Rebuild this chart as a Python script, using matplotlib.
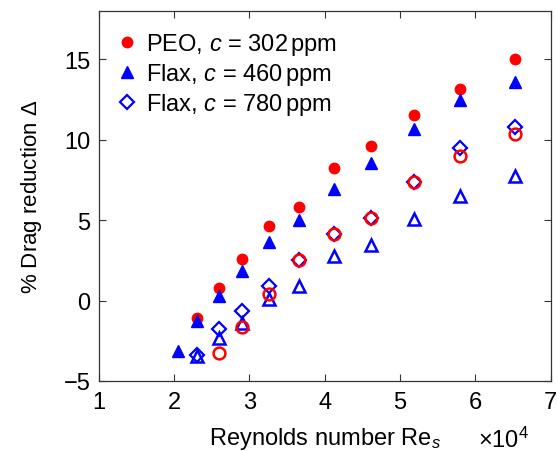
import numpy as np
import matplotlib
matplotlib.use("Agg")
import matplotlib.pyplot as plt

plt.rcParams['font.family'] = ['Liberation Sans', 'DejaVu Sans']
plt.rcParams['mathtext.fontset'] = 'custom'
plt.rcParams['mathtext.rm'] = 'Liberation Sans'
plt.rcParams['mathtext.it'] = 'Liberation Sans:italic'

# Reynolds number, in units of 10^4
re_all = [2.05, 2.30, 2.60, 2.90, 3.26, 3.66, 4.12, 4.62, 5.18, 5.80, 6.52]

# drag reduction (%)
peo_302 = [-1.08, 0.79, 2.60, 4.65, 5.83, 8.26, 9.63, 11.56, 13.18, 15.05]
flax_460 = [-3.13, -1.26, 0.29, 1.85, 3.65, 5.02, 6.95, 8.57, 10.69, 12.45, 13.62]
flax_780 = [-3.38, -1.80, -0.65, 0.90, 2.53, 4.15, 5.15, 7.39, 9.49, 10.80]
peo_open = [-3.26, -1.64, 0.38, 2.53, 4.15, 5.15, 7.39, 9.00, 10.38]
flax_open = [-3.45, -2.30, -1.40, 0.10, 0.92, 2.75, 3.47, 5.10, 6.48, 7.75]

fig = plt.figure(figsize=(5.57, 4.52), dpi=100)
ax = fig.add_axes([0.177, 0.155, 0.812, 0.818])

ax.plot(re_all[1:], peo_302, 'o', color='red', ms=7.5, mec='red',
        label=r'PEO, $c$ = 302$\,$ppm')
ax.plot(re_all, flax_460, '^', color='blue', ms=8.5, mec='blue',
        label=r'Flax, $c$ = 460$\,$ppm')
ax.plot(re_all[1:], flax_open, '^', mfc='none', mec='blue', ms=8, mew=1.8)
ax.plot(re_all[1:], flax_780, 'D', mfc='none', mec='blue', ms=7.5, mew=1.6,
        label=r'Flax, $c$ = 780$\,$ppm')
ax.plot(re_all[2:], peo_open, 'o', mfc='none', mec='red', ms=8.5, mew=1.8)

ax.set_xlim(1, 7)
ax.set_ylim(-5, 18)
ax.set_xticks([1, 2, 3, 4, 5, 6, 7])
ax.set_yticks([-5, 0, 5, 10, 15])
ax.set_yticklabels(['\u22125', '0', '5', '10', '15'])
ax.tick_params(direction='in', length=5, width=0.8, top=True, right=True,
               labelsize=17, color='#333333')
ax.tick_params(axis='x', pad=7)
ax.tick_params(axis='y', pad=6)
for s in ax.spines.values():
    s.set_color('#333333')
    s.set_linewidth(0.9)

ax.set_xlabel(r'Reynolds number Re$_s$', fontsize=17, labelpad=9)
ax.set_ylabel(r'% Drag reduction $\Delta$', fontsize=16, labelpad=14)
fig.text(0.858, 0.025, r'$\times10^4$', fontsize=17, ha='left', va='center')

ax.legend(loc='upper left', bbox_to_anchor=(-0.012, 1.0), frameon=False,
          fontsize=17, handletextpad=0.2, borderaxespad=0.2,
          labelspacing=0.17, handlelength=1.2, borderpad=0.65)

fig.savefig('out.png', dpi=100)
